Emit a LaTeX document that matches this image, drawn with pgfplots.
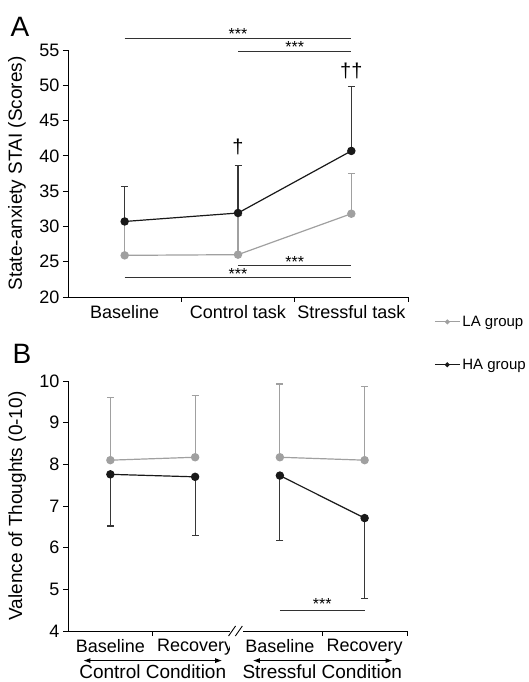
\documentclass[border=0pt]{standalone}
\usepackage{fontspec}
\setmainfont{Liberation Sans}
\usepackage{pgfplots}
\pgfplotsset{compat=1.18}
\usetikzlibrary{arrows.meta}

\definecolor{lagrey}{RGB}{160,160,160}
\definecolor{hablack}{RGB}{25,25,25}
\definecolor{habar}{RGB}{55,55,55}
\definecolor{sig}{RGB}{50,50,50}

\newcommand{\ticksize}{\fontsize{18}{20}\selectfont}
\newcommand{\labsize}{\fontsize{19}{21}\selectfont}
\newcommand{\sigsize}{\fontsize{16}{17}\selectfont}

\pgfplotsset{
  panel/.style={
    scale only axis, clip=false,
    axis x line*=bottom, axis y line*=left,
    axis line style={-, black, line width=0.9pt},
    tick align=outside, major tick length=5pt,
    tick style={black, line width=0.9pt},
    tick label style={font=\ticksize},
    label style={font=\labsize},
    /pgf/number format/assume math mode=true,
    ylabel style={at={(axis description cs:-0.15,0.5)}, anchor=center},
    extra x tick style={major tick length=0pt, tick style={draw=none}},
    xticklabel style={yshift=-5pt},
  },
  la/.style={lagrey, line width=1.2pt, mark=*, mark size=3.6pt,
    mark options={fill=lagrey, draw=lagrey},
    error bars/.cd, y dir=#1, y explicit,
    error bar style={lagrey, line width=1.2pt},
    error mark options={rotate=90, lagrey, mark size=3.5pt, line width=1.2pt}},
  ha/.style={hablack, line width=1.2pt, mark=*, mark size=3.6pt,
    mark options={fill=hablack, draw=hablack},
    error bars/.cd, y dir=#1, y explicit,
    error bar style={habar, line width=1.2pt},
    error mark options={rotate=90, habar, mark size=3.5pt, line width=1.2pt}},
}

\begin{document}
\begin{tikzpicture}
\path[use as bounding box] (0,0) rectangle (529pt,682pt);

% ---- panel A
\begin{axis}[panel,
  at={(68pt,385pt)}, anchor=south west,
  width=340pt, height=247pt,
  xmin=0, xmax=3, ymin=20, ymax=55,
  ytick={20,25,...,55},
  xtick={1,2,3}, xticklabels={,,},
  extra x ticks={0.5,1.5,2.5},
  extra x tick labels={Baseline,Control task,Stressful task},
  ylabel={State-anxiety STAI (Scores)},
  legend style={draw=none, fill=none, at={(1.0765,-0.068)}, anchor=north west,
    font=\fontsize{15}{17}\selectfont, row sep=27pt, inner sep=0pt,
    cells={anchor=west}},
  legend image code/.code={\draw[mark repeat=2, mark phase=2, mark size=1.8pt]
    plot coordinates {(0pt,0pt) (12.5pt,0pt) (25pt,0pt)};},
]
\addplot[la=plus] coordinates {
  (0.5,25.9) +- (0,4.7)
  (1.5,26.0) +- (0,5.5)
  (2.5,31.8) +- (0,5.7)
};
\addlegendentry{LA group}
\addplot[ha=plus] coordinates {
  (0.5,30.7) +- (0,5.0)
  (1.5,31.9) +- (0,6.7)
  (2.5,40.7) +- (0,9.1)
};
\addlegendentry{HA group}

% significance bars
\draw[sig, line width=1pt] (axis cs:0.5,56.6) -- (axis cs:2.5,56.6);
\node[font=\sigsize, inner sep=0pt] at (axis cs:1.5,57.2) {***};
\draw[sig, line width=1pt] (axis cs:1.5,54.8) -- (axis cs:2.5,54.8);
\node[font=\sigsize, inner sep=0pt] at (axis cs:2.0,55.4) {***};
\draw[sig, line width=1pt] (axis cs:1.5,24.4) -- (axis cs:2.5,24.4);
\node[font=\sigsize, inner sep=0pt] at (axis cs:2.0,25.0) {***};
\draw[sig, line width=1pt] (axis cs:0.5,22.7) -- (axis cs:2.5,22.7);
\node[font=\sigsize, inner sep=0pt] at (axis cs:1.5,23.3) {***};
\node[font=\fontsize{20}{22}\selectfont] at (axis cs:1.5,41.2) {†};
\node[font=\fontsize{20}{22}\selectfont] at (axis cs:2.5,52.0) {††};
\end{axis}

% ---- panel B
\begin{axis}[panel,
  at={(68pt,51pt)}, anchor=south west,
  width=339pt, height=250pt,
  xmin=0, xmax=4, ymin=4, ymax=10,
  ytick={4,5,...,10},
  xtick={1,3,4}, xticklabels={,,},
  extra x ticks={0.5,1.5,2.5,3.5},
  extra x tick labels={Baseline,Recovery,Baseline,Recovery},
  ylabel={Valence of Thoughts (0-10)},
]
\addplot[la=plus] coordinates {
  (0.5,8.10) +- (0,1.50)
  (1.5,8.17) +- (0,1.49)
};
\addplot[la=plus] coordinates {
  (2.5,8.17) +- (0,1.76)
  (3.5,8.10) +- (0,1.77)
};
\addplot[ha=minus] coordinates {
  (0.5,7.76) +- (0,1.24)
  (1.5,7.70) +- (0,1.40)
};
\addplot[ha=minus] coordinates {
  (2.5,7.73) +- (0,1.56)
  (3.5,6.71) +- (0,1.93)
};

% axis break
\fill[white] (axis cs:1.91,4) ++(0,-2pt) rectangle ([yshift=2pt]axis cs:2.06,4);
\draw[black, line width=0.9pt] (axis cs:1.93,4) ++(-3pt,-5pt) -- ++(7pt,10pt);
\draw[black, line width=0.9pt] (axis cs:2.01,4) ++(-3pt,-5pt) -- ++(7pt,10pt);

% significance
\draw[sig, line width=1pt] (axis cs:2.5,4.5) -- (axis cs:3.5,4.5);
\node[font=\sigsize, inner sep=0pt] at (axis cs:3.0,4.64) {***};

% condition arrows
\draw[black, line width=1pt, {Latex[length=7pt,width=5pt]}-{Latex[length=7pt,width=5pt]}]
  (axis cs:0.18,3.29) -- (axis cs:1.82,3.29);
\draw[black, line width=1pt, {Latex[length=7pt,width=5pt]}-{Latex[length=7pt,width=5pt]}]
  (axis cs:2.18,3.29) -- (axis cs:3.83,3.29);
\node[font=\labsize, inner sep=0pt] at (axis cs:1.0,3.02) {Control Condition};
\node[font=\labsize, inner sep=0pt] at (axis cs:3.0,3.02) {Stressful Condition};
\end{axis}

\node[font=\fontsize{28}{30}\selectfont] at (20pt,655pt) {A};
\node[font=\fontsize{28}{30}\selectfont] at (22pt,328pt) {B};
\end{tikzpicture}
\end{document}
